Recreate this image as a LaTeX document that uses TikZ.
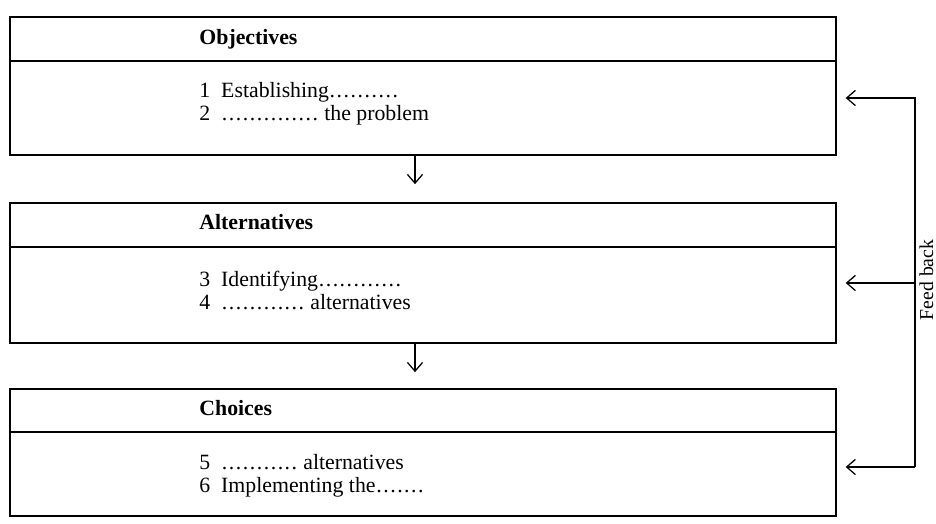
\documentclass[tikz,border=0pt]{standalone}
\usepackage{fontspec}
\setmainfont{Liberation Serif}
\usetikzlibrary{arrows.meta,positioning,calc}
\newcommand{\blanks}[1]{\cleaders\hbox to 0.32em{\hss.\hss}\hskip #1\dimexpr0.32em\relax\kern0pt\relax}

\begin{document}
\begin{tikzpicture}[
  every node/.style={font=\fontsize{15.5}{16.4}\selectfont},
  box/.style={rectangle, draw, line width=1.2pt, minimum width=20.65cm, inner sep=0pt},
  rule/.style={line width=1.2pt},
  head/.style={font=\fontsize{15.5}{16.4}\selectfont\bfseries, anchor=west, inner sep=0pt},
  body/.style={align=left, anchor=west, inner sep=0pt},
  arr/.style={-{Straight Barb[length=2.2mm,width=3.8mm]}, line width=0.9pt},
]
\useasboundingbox (0,0) rectangle (23.4,-13.1);

% Objectives
\node[box, minimum height=3.45cm] (obj) at (10.575,-2.15) {};
\draw[rule] ($(obj.north west)+(0,-1.125)$) -- ($(obj.north east)+(0,-1.125)$);
\node[head] (objhead) at ($(obj.north west)+(4.75,-0.58)$) {Objectives};
\node[body] (objbody) at ($(obj.north west)+(4.75,-2.2)$)
      {1\enspace Establishing\blanks{10}\\2\enspace\blanks{14} the problem};

% Alternatives
\node[box, minimum height=3.5cm] (alt) at (10.575,-6.825) {};
\draw[rule] ($(alt.north west)+(0,-1.125)$) -- ($(alt.north east)+(0,-1.125)$);
\node[head] (althead) at ($(alt.north west)+(4.75,-0.5)$) {Alternatives};
\node[body] (altbody) at ($(alt.north west)+(4.75,-2.2)$)
      {3\enspace Identifying\blanks{12}\\4\enspace\blanks{12} alternatives};

% Choices
\node[box, minimum height=3.175cm] (cho) at (10.575,-11.3125) {};
\draw[rule] ($(cho.north west)+(0,-1.1)$) -- ($(cho.north east)+(0,-1.1)$);
\node[head] (chohead) at ($(cho.north west)+(4.75,-0.5)$) {Choices};
\node[body] (chobody) at ($(cho.north west)+(4.75,-2.2)$)
      {5\enspace\blanks{11} alternatives\\6\enspace Implementing the\blanks{7}};

% Arrows between boxes
\draw[arr, shorten >=0.45cm] ([xshift=-0.2cm]obj.south) -- ([xshift=-0.2cm]alt.north);
\draw[arr, shorten >=0.4cm] ([xshift=-0.2cm]alt.south) -- ([xshift=-0.2cm]cho.north);

% Feed back loop
\coordinate (fbtop) at (22.875,-2.45);
\coordinate (fbmid) at (22.875,-7.075);
\coordinate (fbbot) at (22.875,-11.675);
\draw[arr, shorten >=0.22cm] (fbbot) -- (fbtop) -- (obj.east |- fbtop);
\draw[arr, shorten >=0.22cm] (fbmid) -- (alt.east |- fbmid);
\draw[arr, shorten >=0.22cm] (fbbot) -- (cho.east |- fbbot);
\node[rotate=90, anchor=base, inner sep=0pt, font=\fontsize{14}{16}\selectfont] (fblabel) at (23.33,-7.0) {Feed back};
\end{tikzpicture}
\end{document}
